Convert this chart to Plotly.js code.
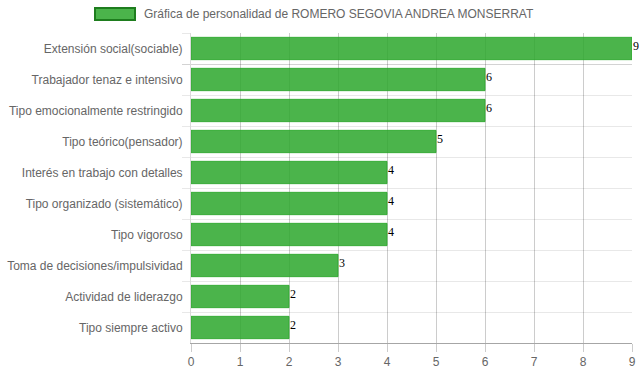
<!DOCTYPE html>
<html>
<head>
<meta charset="utf-8">
<script src="https://cdn.plot.ly/plotly-3.0.1.min.js"></script>
<style>html,body{margin:0;padding:0;background:#fff;}#chart{width:639px;height:372px;}</style>
</head>
<body>
<div id="chart"></div>
<script>
const categories = [
  "Extensión social(sociable)",
  "Trabajador tenaz e intensivo",
  "Tipo emocionalmente restringido",
  "Tipo teórico(pensador)",
  "Interés en trabajo con detalles",
  "Tipo organizado (sistemático)",
  "Tipo vigoroso",
  "Toma de decisiones/impulsividad",
  "Actividad de liderazgo",
  "Tipo siempre activo"
];
const values = [9, 6, 6, 5, 4, 4, 4, 3, 2, 2];
const seriesName = "Gráfica de personalidad de ROMERO SEGOVIA ANDREA MONSERRAT";
const xTicks = [0, 1, 2, 3, 4, 5, 6, 7, 8, 9];

const trace = {
  type: 'bar',
  orientation: 'h',
  x: values,
  y: categories,
  name: seriesName,
  marker: {color: 'rgba(44,167,44,0.85)', line: {color: 'rgba(44,167,44,0.85)', width: 1}},
  hoverinfo: 'none'
};

const valueLabels = values.map((v, i) => ({
  x: v, y: categories[i], xref: 'x', yref: 'y',
  xanchor: 'left', yanchor: 'middle', yshift: 3, xshift: 0,
  showarrow: false, text: String(v), borderpad: 0,
  font: {family: 'Liberation Serif, Times New Roman, serif', size: 12, color: '#000'}
}));

const layout = {
  width: 639, height: 372,
  margin: {l: 191, r: 7, t: 33, b: 29},
  paper_bgcolor: '#fff', plot_bgcolor: '#fff',
  showlegend: false,
  bargap: 0.28,
  font: {family: 'Liberation Sans, Arial, sans-serif', size: 12, color: '#666'},
  xaxis: {
    range: [0, 9], tickvals: xTicks, ticktext: xTicks.map(String),
    showgrid: true, gridcolor: 'rgba(0,0,0,0.2)', gridwidth: 1,
    zeroline: false, showline: true, linecolor: 'rgba(0,0,0,0.35)',
    ticks: 'outside', ticklen: 8, tickcolor: 'rgba(0,0,0,0.2)',
    tickfont: {size: 12, color: '#666'}, fixedrange: true
  },
  yaxis: {
    autorange: 'reversed', type: 'category',
    tickson: 'boundaries', showgrid: true, gridcolor: 'rgba(0,0,0,0.09)', gridwidth: 1,
    ticks: 'outside', ticklen: 8, tickcolor: 'rgba(0,0,0,0.09)',
    ticklabelstandoff: 5,
    showline: true, linecolor: 'rgba(0,0,0,0.15)',
    tickfont: {size: 12, color: '#666'}, fixedrange: true
  },
  shapes: [{
    type: 'rect', xref: 'paper', yref: 'paper',
    x0: (95 - 191) / 441, x1: (135 - 191) / 441,
    y0: (343 - 20) / 310, y1: (343 - 8) / 310,
    fillcolor: 'rgba(44,167,44,0.85)', line: {color: '#1e7d1e', width: 2}
  }],
  annotations: [{
    xref: 'paper', yref: 'paper',
    x: (142 - 191) / 441, y: (343 - 14) / 310,
    xanchor: 'left', yanchor: 'middle', showarrow: false,
    text: seriesName, font: {size: 12, color: '#666'}
  }].concat(valueLabels)
};

Plotly.newPlot('chart', [trace], layout, {displayModeBar: false, staticPlot: true});
</script>
</body>
</html>
